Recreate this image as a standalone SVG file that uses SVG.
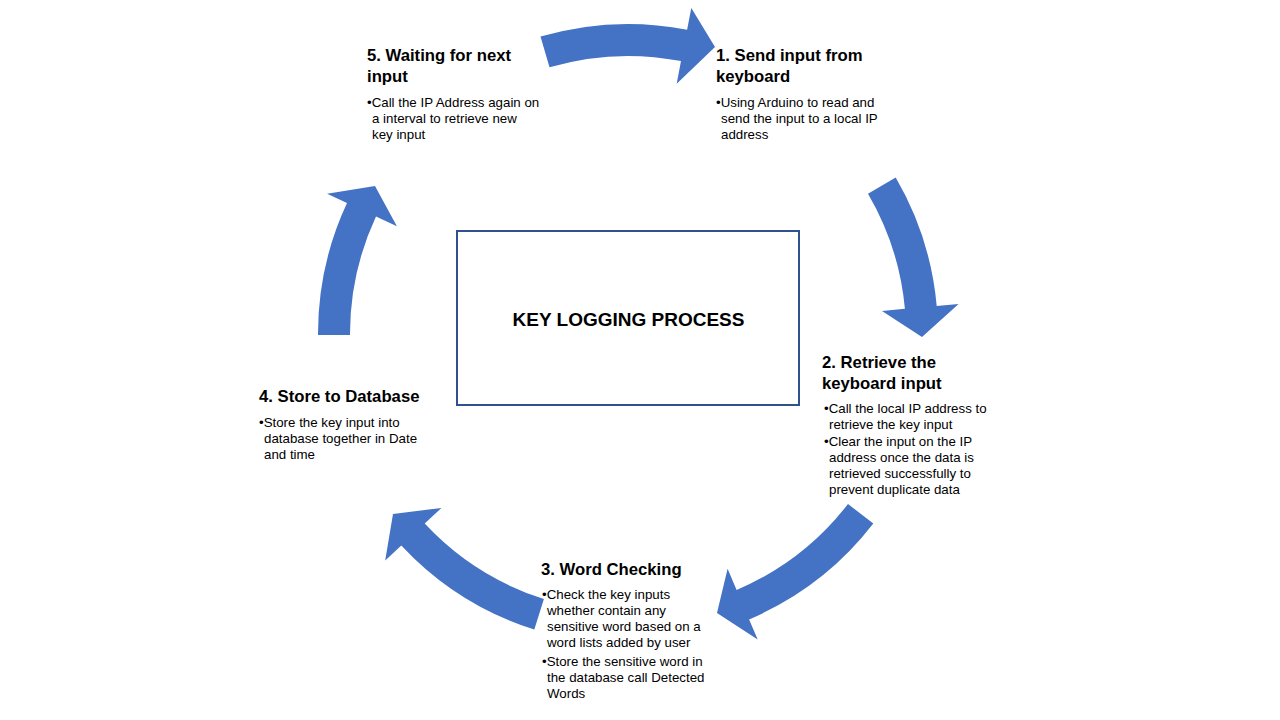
<svg xmlns="http://www.w3.org/2000/svg" width="1280" height="720" viewBox="0 0 1280 720">
<style>
  .arrow { fill: #4472C4; stroke: none; }
  .title { font-family: "Liberation Sans", Arial, sans-serif; font-weight: bold; font-size: 16.7px; fill: #000000; }
  .body { font-family: "Liberation Sans", Arial, sans-serif; font-size: 13.3px; fill: #000000; }
  .center { font-family: "Liberation Sans", Arial, sans-serif; font-weight: bold; font-size: 19px; fill: #000000; }
  .box { fill: #FFFFFF; stroke: #2F528F; stroke-width: 2; }
</style>
<rect x="0" y="0" width="1280" height="720" fill="#FFFFFF"/>

<g id="connectors">
  <path id="arrow-5-to-1" class="arrow" d="M540.5,36.6 A310,310 0 0 1 687.1,29.7 L691.3,8.1 L715,47 L676.7,83.7 L681,61.1 A278,278 0 0 0 549.5,67.3 Z"/>
  <path id="arrow-1-to-2" class="arrow" d="M895.7,177.6 A310,310 0 0 1 936.7,305.9 L958.6,303.9 L922,337 L882,310.9 L904.9,308.8 A278,278 0 0 0 868,193.7 Z"/>
  <path id="arrow-2-to-3" class="arrow" d="M873.3,523.6 A310,310 0 0 1 749.1,619.4 L757.7,639.6 L717,613 L727.6,568.7 L736.6,589.9 A278,278 0 0 0 848,504 Z"/>
  <path id="arrow-3-to-4" class="arrow" d="M534.3,629.5 A310,310 0 0 1 401.3,545.4 L385.2,560.4 L393,514 L441.5,507.9 L424.7,523.6 A278,278 0 0 0 543.9,599 Z"/>
  <path id="arrow-4-to-5" class="arrow" d="M318,335.1 A310,310 0 0 1 347,203 L327.1,193.7 L375,186 L396.9,226.2 L376,216.5 A278,278 0 0 0 350,335 Z"/>
</g>

<g id="center-node">
  <rect class="box" x="457" y="231" width="342" height="174"/>
  <text class="center" x="628.5" y="326" text-anchor="middle">KEY LOGGING PROCESS</text>
</g>

<g id="step-1">
  <text class="title" x="716" y="61">1. Send input from</text>
  <text class="title" x="716" y="82">keyboard</text>
  <text class="body" x="716" y="107">•Using Arduino to read and</text>
  <text class="body" x="721" y="123">send the input to a local IP</text>
  <text class="body" x="721" y="139">address</text>
</g>

<g id="step-2">
  <text class="title" x="822" y="368">2. Retrieve the</text>
  <text class="title" x="822" y="389">keyboard input</text>
  <text class="body" x="824" y="413">•Call the local IP address to</text>
  <text class="body" x="829" y="429">retrieve the key input</text>
  <text class="body" x="824" y="446">•Clear the input on the IP</text>
  <text class="body" x="829" y="462">address once the data is</text>
  <text class="body" x="829" y="478">retrieved successfully to</text>
  <text class="body" x="829" y="494">prevent duplicate data</text>
</g>

<g id="step-3">
  <text class="title" x="541" y="575">3. Word Checking</text>
  <text class="body" x="542" y="599">•Check the key inputs</text>
  <text class="body" x="547" y="615">whether contain any</text>
  <text class="body" x="547" y="631">sensitive word based on a</text>
  <text class="body" x="547" y="647">word lists added by user</text>
  <text class="body" x="542" y="666">•Store the sensitive word in</text>
  <text class="body" x="547" y="682">the database call Detected</text>
  <text class="body" x="547" y="698">Words</text>
</g>

<g id="step-4">
  <text class="title" x="259" y="402">4. Store to Database</text>
  <text class="body" x="259" y="427">•Store the key input into</text>
  <text class="body" x="264" y="443">database together in Date</text>
  <text class="body" x="264" y="459">and time</text>
</g>

<g id="step-5">
  <text class="title" x="367" y="61">5. Waiting for next</text>
  <text class="title" x="367" y="82">input</text>
  <text class="body" x="367" y="107">•Call the IP Address again on</text>
  <text class="body" x="372" y="123">a interval to retrieve new</text>
  <text class="body" x="372" y="139">key input</text>
</g>
</svg>
